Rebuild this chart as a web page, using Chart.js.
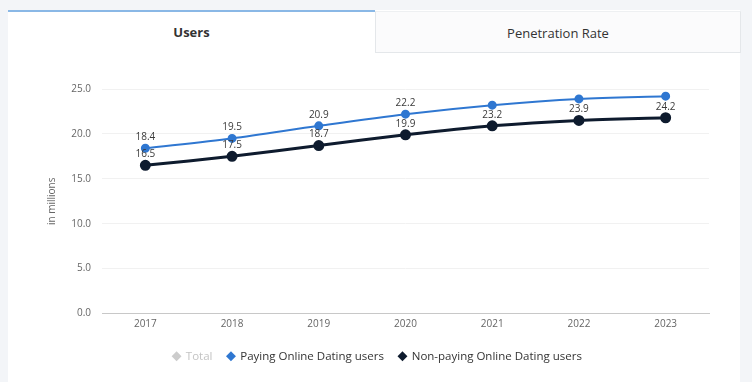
<!DOCTYPE html>
<html>
<head>
<meta charset="utf-8">
<script src="https://cdn.jsdelivr.net/npm/chart.js@4.4.1/dist/chart.umd.min.js"></script>
<style>
  html, body { margin: 0; padding: 0; }
  body { width: 752px; height: 382px; background: #f3f5f8; position: relative; overflow: hidden; font-family: "Open Sans", sans-serif; }
  .card { position: absolute; left: 8px; top: 10px; width: 732px; height: 380px; background: #fff; }
  .tab { position: absolute; top: 0; height: 42px; line-height: 42px; text-align: center; font-size: 13px; color: #333; box-sizing: border-box; }
  .tab.active { left: 0; width: 367px; border-top: 2px solid #8ab8e6; font-weight: bold; line-height: 40px; }
  .tab.other { left: 367px; width: 366px; top: 1px; background: #fbfbfc; border: 1px solid #e4e7ea; border-top-color: #eef0f2; }
  #wrap { position: absolute; left: 8px; top: 60px; width: 732px; height: 322px; }
</style>
</head>
<body>
<div class="card">
  <div class="tab active">Users</div>
  <div class="tab other">Penetration Rate</div>
</div>
<div id="wrap"><canvas id="myChart"></canvas></div>
<script>
const years = ["2017", "2018", "2019", "2020", "2021", "2022", "2023"];
const payingUsers = [18.4, 19.5, 20.9, 22.2, 23.2, 23.9, 24.2];
const nonPayingUsers = [16.5, 17.5, 18.7, 19.9, 20.9, 21.5, 21.8];
const totalUsers = [];
const yTicks = [0, 5, 10, 15, 20, 25];

// value labels as they appear in the picture: [text, series index it sits above]
const valueLabels = [
    ["18.4", 1], ["19.5", 1], ["20.9", 1], ["22.2", 1],
    ["16.5", 2], ["17.5", 2], ["18.7", 2], ["19.9", 2],
    ["23.2", 2], ["23.9", 2], ["24.2", 2]
];
const labelIndex = [0, 1, 2, 3, 0, 1, 2, 3, 4, 5, 6];

const blue = "#2f77d1";
const dark = "#0e1b2e";

const labelPlugin = {
    id: "valueLabels",
    afterDatasetsDraw(chart) {
        const ctx = chart.ctx;
        ctx.save();
        ctx.font = "10px 'Open Sans', sans-serif";
        ctx.fillStyle = "#3a3a3a";
        ctx.textAlign = "center";
        ctx.textBaseline = "middle";
        valueLabels.forEach(([text, ds], i) => {
            const pt = chart.getDatasetMeta(ds).data[labelIndex[i]];
            ctx.fillText(text, pt.x, pt.y - 11);
        });
        ctx.restore();
    }
};

new Chart("myChart", {
    type: "line",
    data: {
        labels: years,
        datasets: [{
            label: "Total",
            data: totalUsers,
            borderColor: "#cccccc",
            backgroundColor: "#cccccc",
            hidden: true
        }, {
            label: "Paying Online Dating users",
            data: payingUsers,
            borderColor: blue,
            backgroundColor: blue,
            borderWidth: 2,
            pointRadius: 3.5,
            pointHoverRadius: 4,
            tension: 0.3
        }, {
            label: "Non-paying Online Dating users",
            data: nonPayingUsers,
            borderColor: dark,
            backgroundColor: dark,
            borderWidth: 3,
            pointRadius: 4,
            pointHoverRadius: 4,
            tension: 0.3
        }]
    },
    options: {
        responsive: true,
        maintainAspectRatio: false,
        animation: false,
        layout: { padding: { left: 38, right: 31, top: 29, bottom: 10 } },
        scales: {
            x: {
                offset: true,
                grid: { display: false, drawTicks: false },
                border: { color: "#c8c8c8", width: 1 },
                ticks: { color: "#666", font: { size: 10, family: "'Open Sans', sans-serif" }, padding: 5 },
                afterFit(scale) { scale.height = 22; }
            },
            y: {
                min: 0,
                max: 25,
                afterBuildTicks(scale) { scale.ticks = yTicks.map(v => ({ value: v })); },
                grid: { color: "#f1f1f1", drawTicks: false },
                border: { display: false },
                ticks: {
                    color: "#666",
                    padding: 11,
                    font: { size: 10, family: "'Open Sans', sans-serif" },
                    callback: v => v.toFixed(1)
                },
                title: {
                    display: true,
                    text: "in millions",
                    color: "#666",
                    font: { size: 10, family: "'Open Sans', sans-serif" },
                    padding: 0
                },
                afterFit(scale) { scale.width = 56; }
            }
        },
        plugins: {
            tooltip: { enabled: false },
            legend: {
                position: "bottom",
                onClick: null,
                labels: {
                    usePointStyle: true,
                    pointStyle: "rectRot",
                    boxWidth: 7,
                    boxHeight: 7,
                    padding: 15,
                    font: { size: 11.5, family: "'Open Sans', sans-serif" },
                    generateLabels(chart) {
                        return chart.data.datasets.map((ds, i) => ({
                            text: ds.label,
                            fillStyle: ds.backgroundColor,
                            strokeStyle: ds.backgroundColor,
                            fontColor: i === 0 ? "#c4c4c4" : "#333",
                            lineWidth: 0,
                            pointStyle: "rectRot",
                            hidden: false,
                            datasetIndex: i
                        }));
                    }
                }
            }
        }
    },
    plugins: [labelPlugin]
});
</script>
</body>
</html>
